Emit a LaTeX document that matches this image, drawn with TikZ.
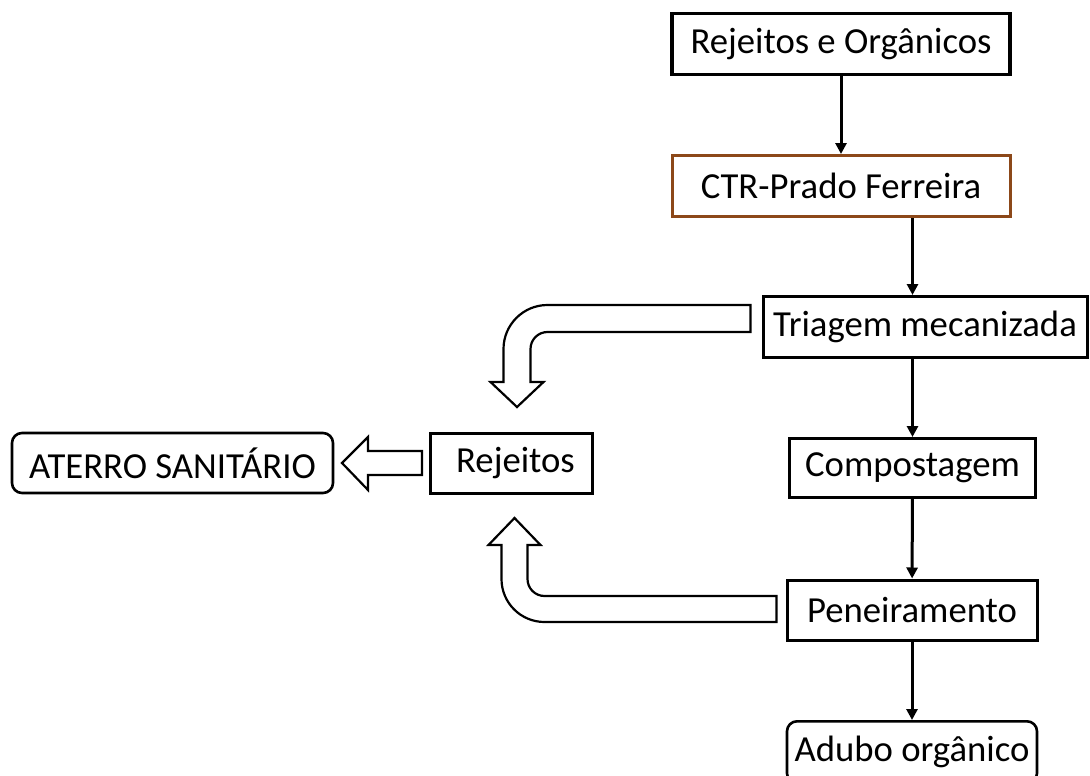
\documentclass[tikz,border=0pt]{standalone}
\usepackage{fontspec}
\setmainfont{Carlito}
\usepackage{tikz}
\usetikzlibrary{arrows.meta,calc}
\definecolor{ctrbrown}{RGB}{140,72,25}

\begin{document}
\begin{tikzpicture}[x=1pt,y=1pt,
    every node/.style={font=\fontsize{36.7}{44}\selectfont, inner sep=0pt},
    box/.style={draw, shape=rectangle, line width=3pt, minimum height=61pt},
    rbox/.style={box, line width=2.6pt, rounded corners=10pt},
    flow/.style={-{Triangle[length=11pt,width=11pt]}, line width=3pt},
    hollow/.style={draw, line width=2.2pt, fill=white, line join=miter}]
  \useasboundingbox (0,0) rectangle (1090,-776);
  \node (orig) [box, minimum width=338pt, line width=3.6pt] at (841,-44) {Rejeitos e Orgânicos};
  \node (ctr) [box, draw=ctrbrown, minimum width=338pt] at (841,-186) {CTR-Prado Ferreira};
  \node (triagem) [box, minimum width=324pt] at (925,-327) {Triagem mecanizada};
  \node (comp) [box, minimum width=246pt, minimum height=59pt] at (912.5,-468) {Compostagem};
  \node (pen) [box, minimum width=250pt, minimum height=60pt] at (912,-610) {Peneiramento};
  \node (adubo) [rbox, minimum width=250pt, minimum height=62pt, anchor=north] at (912,-720) {Adubo orgânico};
  \node (rej) [box, minimum width=162pt, minimum height=60pt] at (511.5,-463) {\hspace{8pt}Rejeitos};
  \node (aterro) [rbox, minimum width=321pt, minimum height=60pt] at (172.5,-463) {ATERRO SANITÁRIO};

  \draw[flow] (orig) -- (ctr);
  \draw[flow] (ctr.south -| comp.north) -- (triagem.north -| comp.north);
  \draw[flow] (triagem.south -| comp.north) -- (comp);
  \draw[flow] (comp) -- (pen);
  \draw[flow] (pen) -- (adubo);

  % hollow arrows towards Rejeitos / aterro
  \path[hollow] ($(triagem.west)+(-11,22)$) -- ++(-203,0)
    arc[start angle=90, end angle=180, radius=44pt] -- ++(0,-33) -- ++(-13,0)
    -- ++(26.5,-25) -- ++(26.5,25) -- ++(-13,0) -- ++(0,33)
    arc[start angle=180, end angle=90, radius=17pt] -- ++(203,0) -- cycle;
  \path[hollow] ($(pen.west)+(-9,14)$) -- ++(-232,0)
    arc[start angle=270, end angle=180, radius=17pt] -- ++(0,34) -- ++(13,0)
    -- ++(-26,27) -- ++(-26,-27) -- ++(13,0) -- ++(0,-34)
    arc[start angle=180, end angle=270, radius=43pt] -- ++(232,0) -- cycle;
  \path[hollow] ($(rej.west)+(-7,12)$) -- ++(-54,0) -- ++(0,14) -- ++(-26,-26)
    -- ++(26,-27) -- ++(0,15) -- ++(54,0) -- cycle;
\end{tikzpicture}
\end{document}
